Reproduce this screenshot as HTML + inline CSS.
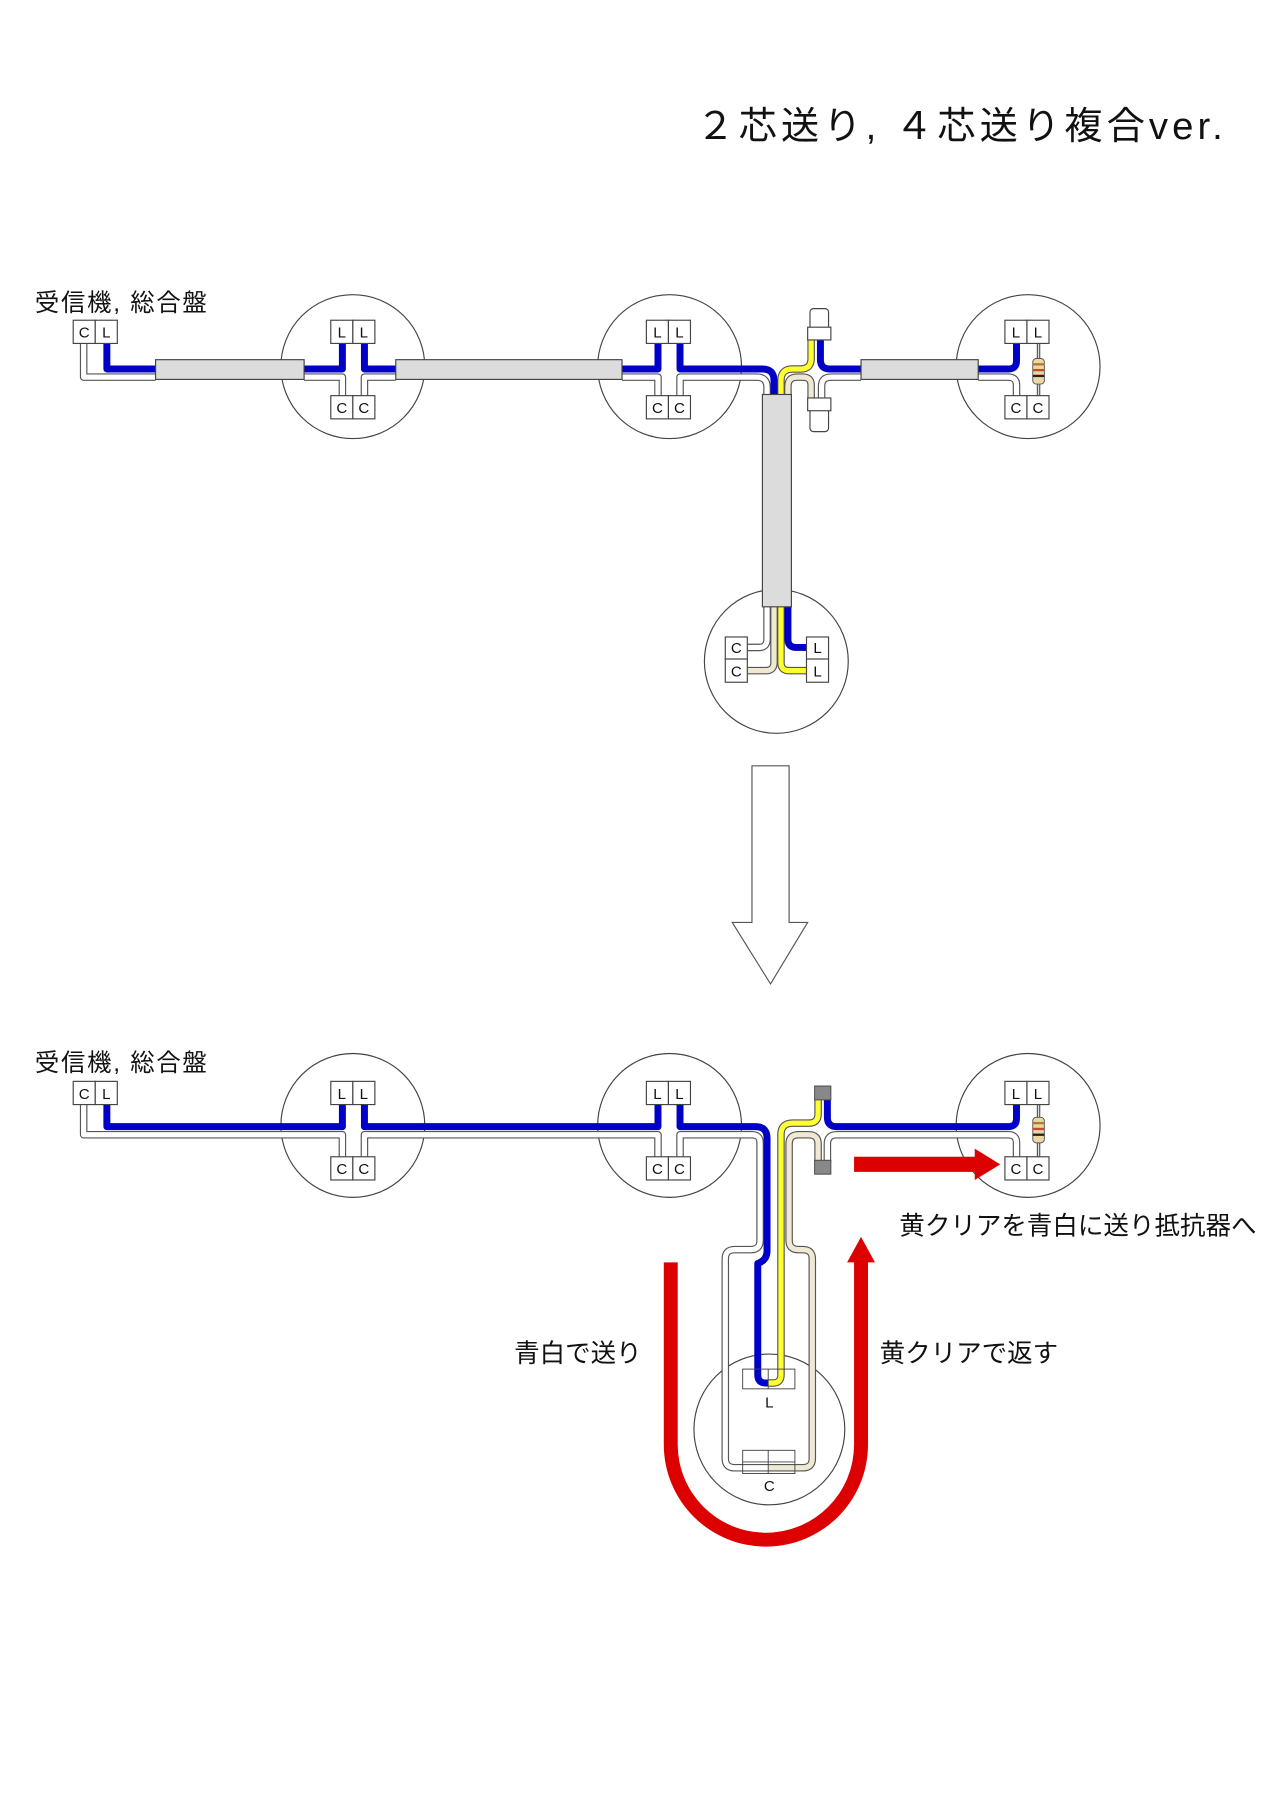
<!DOCTYPE html>
<html><head><meta charset="utf-8">
<style>
html,body{margin:0;padding:0;background:#fff;}
svg{display:block;}
text{font-family:"Liberation Sans","Noto Sans CJK JP",sans-serif;fill:#111;}
.c{fill:none;stroke:#444;stroke-width:1;}
.bx{fill:#fff;stroke:#444;stroke-width:1;}
.t{font-size:13px;text-anchor:middle;}
.wo{fill:none;stroke:#555;stroke-width:6.5;stroke-linejoin:round;}
.wi{fill:none;stroke:#fff;stroke-width:4.5;stroke-linejoin:round;}
.be{fill:none;stroke:#efe9d4;stroke-width:4.5;stroke-linejoin:round;}
.yi{fill:none;stroke:#ffff30;stroke-width:4.5;stroke-linejoin:round;}
.bl{fill:none;stroke:#0000c8;stroke-width:6;stroke-linejoin:round;}
.cab{fill:#dcdcdc;stroke:#444;stroke-width:1;}
</style></head><body>
<svg width="1280" height="1810" viewBox="0 0 1103 1560" xmlns="http://www.w3.org/2000/svg">
<defs>
<path id="tw1" d="M72 296 V325 H134"/>
<path id="tw2" d="M262 325 H295 V341"/>
<path id="tw3" d="M314 341 V325 H341"/>
<path id="tw4" d="M536 325 H567 V341"/>
<path id="tw5" d="M586 341 V325 H652 Q661 325 661 334 V342"/>
<path id="tbe" d="M679 342 V333 Q679 325 687 325 H692 Q699 325 699 332 V344"/>
<path id="tye" d="M673 342 V328 Q673 318 683 318 H690 Q699 318 699 309 V291"/>
<path id="tw6" d="M708 344 V333 Q708 325 716 325 H742"/>
<path id="tw7" d="M843 325 H869 Q876 325 876 332 V341"/>
<path id="cw1" d="M661 522 V551 Q661 558 654 558 H643"/>
<path id="cbe" d="M667 522 V571 Q667 578 660 578 H643"/>
<path id="cye" d="M673 522 V571 Q673 578 680 578 H695"/>
<path id="bw1" d="M72 951 V978 H295 V997"/>
<path id="bw2" d="M314 997 V978 H567 V997"/>
<path id="bw3" d="M586 997 V978 H648 Q655 978 655 985 V1069 Q655 1077 647 1077 H633 Q625 1077 625 1085 V1257 Q625 1265 633 1265 H662"/>
<path id="bbe" d="M705 1002 V986 Q705 978 697 978 H688 Q680 978 680 986 V1069 Q680 1077 688 1077 H692 Q700 1077 700 1085 V1257 Q700 1265 692 1265 H662"/>
<path id="bye" d="M705 947 V960 Q705 968 697 968 H683 Q673 968 673 978 V1185 Q673 1192 666 1192 H662"/>
<path id="bw4" d="M713 1002 V986 Q713 978 721 978 H869 Q876 978 876 985 V997"/>
</defs>

<text x="600" y="120" style="font-size:33px;letter-spacing:3.5px">２芯送り, ４芯送り複合ver.</text>

<!-- ============ TOP ============ -->
<text x="30" y="268" style="font-size:21px;letter-spacing:1.5px">受信機, 総合盤</text>
<circle class="c" cx="304" cy="316" r="62"/>
<circle class="c" cx="577" cy="316" r="62"/>
<circle class="c" cx="886" cy="316" r="62"/>
<circle class="c" cx="669" cy="570" r="62"/>

<g class="wo"><use href="#tw1"/><use href="#tw2"/><use href="#tw3"/><use href="#tw4"/><use href="#tw5"/><use href="#tbe"/><use href="#tye"/><use href="#tw6"/><use href="#tw7"/><use href="#cw1"/><use href="#cbe"/><use href="#cye"/></g>
<g class="wi"><use href="#tw1"/><use href="#tw2"/><use href="#tw3"/><use href="#tw4"/><use href="#tw5"/><use href="#tw6"/><use href="#tw7"/><use href="#cw1"/></g>
<g class="be"><use href="#tbe"/><use href="#cbe"/></g>
<g class="yi"><use href="#tye"/><use href="#cye"/></g>
<g class="bl">
<path d="M92 296 V318 H134"/>
<path d="M262 318 H295 V296"/>
<path d="M314 296 V318 H341"/>
<path d="M536 318 H567 V296"/>
<path d="M586 296 V318 H657 Q667 318 667 328 V342"/>
<path d="M707 291 V310 Q707 318 715 318 H742"/>
<path d="M843 318 H869 Q876 318 876 311 V296"/>
<path d="M679 522 V551 Q679 558 686 558 H695"/>
</g>
<rect class="cab" x="134" y="310" width="128" height="17"/>
<rect class="cab" x="341" y="310" width="195" height="17"/>
<rect class="cab" x="742" y="310" width="101" height="17"/>
<rect class="cab" x="657" y="340" width="25" height="183"/>
<rect class="bx" x="698" y="266" width="16" height="22" rx="3"/>
<rect class="bx" x="696" y="282" width="20" height="11"/>
<rect class="bx" x="698" y="350" width="16" height="22" rx="3"/>
<rect class="bx" x="696" y="343" width="20" height="11"/>
<line x1="895" y1="296" x2="895" y2="341" stroke="#555" stroke-width="3"/>
<line x1="895" y1="296" x2="895" y2="341" stroke="#ddd" stroke-width="1"/>
<rect x="890" y="309" width="10" height="22" rx="3" fill="#ecd6a6" stroke="#555" stroke-width="0.8"/>
<rect x="890" y="313" width="10" height="2" fill="#b07a30"/>
<rect x="890" y="318" width="10" height="2" fill="#c05020"/>
<rect x="890" y="323" width="10" height="2" fill="#222"/>
<g>
<rect class="bx" x="63" y="276" width="19" height="20"/><rect class="bx" x="82" y="276" width="19" height="20"/>
<text class="t" x="72.5" y="291">C</text><text class="t" x="91.5" y="291">L</text>
<rect class="bx" x="285" y="276" width="19" height="20"/><rect class="bx" x="304" y="276" width="19" height="20"/>
<text class="t" x="294.5" y="291">L</text><text class="t" x="313.5" y="291">L</text>
<rect class="bx" x="285" y="341" width="19" height="20"/><rect class="bx" x="304" y="341" width="19" height="20"/>
<text class="t" x="294.5" y="356">C</text><text class="t" x="313.5" y="356">C</text>
<rect class="bx" x="557" y="276" width="19" height="20"/><rect class="bx" x="576" y="276" width="19" height="20"/>
<text class="t" x="566.5" y="291">L</text><text class="t" x="585.5" y="291">L</text>
<rect class="bx" x="557" y="341" width="19" height="20"/><rect class="bx" x="576" y="341" width="19" height="20"/>
<text class="t" x="566.5" y="356">C</text><text class="t" x="585.5" y="356">C</text>
<rect class="bx" x="866" y="276" width="19" height="20"/><rect class="bx" x="885" y="276" width="19" height="20"/>
<text class="t" x="875.5" y="291">L</text><text class="t" x="894.5" y="291">L</text>
<rect class="bx" x="866" y="341" width="19" height="20"/><rect class="bx" x="885" y="341" width="19" height="20"/>
<text class="t" x="875.5" y="356">C</text><text class="t" x="894.5" y="356">C</text>
<rect class="bx" x="625" y="549" width="19" height="19"/><rect class="bx" x="625" y="568" width="19" height="20"/>
<text class="t" x="634.5" y="563">C</text><text class="t" x="634.5" y="583">C</text>
<rect class="bx" x="695" y="549" width="19" height="19"/><rect class="bx" x="695" y="568" width="19" height="20"/>
<text class="t" x="704.5" y="563">L</text><text class="t" x="704.5" y="583">L</text>
</g>

<polygon points="648,660 680,660 680,795 696,795 664,848 631,795 648,795" fill="#fff" stroke="#555" stroke-width="1"/>

<!-- ============ BOTTOM ============ -->
<text x="30" y="923" style="font-size:21px;letter-spacing:1.5px">受信機, 総合盤</text>
<circle class="c" cx="304" cy="970" r="62"/>
<circle class="c" cx="577" cy="970" r="62"/>
<circle class="c" cx="886" cy="970" r="62"/>
<circle class="c" cx="663" cy="1232" r="65"/>

<path d="M572 1088 V1245 A88 88 0 0 0 748 1245 V1088 H754 L742 1066 L730 1088 H736 V1245 A76 76 0 0 1 584 1245 V1088 Z" fill="#dd0000"/>
<path d="M736 997 H840 V990 L862 1003.5 L840 1017 V1010 H736 Z" fill="#dd0000"/>

<g class="wo"><use href="#bw1"/><use href="#bw2"/><use href="#bw3"/><use href="#bbe"/><use href="#bye"/><use href="#bw4"/></g>
<g class="wi"><use href="#bw1"/><use href="#bw2"/><use href="#bw3"/><use href="#bw4"/></g>
<g class="be"><use href="#bbe"/></g>
<g class="yi"><use href="#bye"/></g>
<g class="bl">
<path d="M92 951 V971 H295 V951"/>
<path d="M314 951 V971 H567 V951"/>
<path d="M586 951 V971 H651 Q661 971 661 981 V1078 Q661 1086 653 1089 V1185 Q653 1192 660 1192 H662"/>
<path d="M713 947 V963 Q713 971 721 971 H869 Q876 971 876 964 V951"/>
</g>
<rect x="702" y="936" width="14" height="12" fill="#888" stroke="#444" stroke-width="0.8"/>
<rect x="702" y="1000" width="14" height="12" fill="#888" stroke="#444" stroke-width="0.8"/>
<line x1="895" y1="951" x2="895" y2="997" stroke="#555" stroke-width="3"/>
<line x1="895" y1="951" x2="895" y2="997" stroke="#ddd" stroke-width="1"/>
<rect x="890" y="963" width="10" height="22" rx="3" fill="#ecd6a6" stroke="#555" stroke-width="0.8"/>
<rect x="890" y="967" width="10" height="2" fill="#b07a30"/>
<rect x="890" y="972" width="10" height="2" fill="#c05020"/>
<rect x="890" y="977" width="10" height="2" fill="#222"/>
<rect x="640" y="1180" width="45" height="17" fill="none" stroke="#444" stroke-width="0.8"/>
<line x1="662" y1="1180" x2="662" y2="1197" stroke="#444" stroke-width="0.8"/>
<text class="t" x="663" y="1213">L</text>
<rect x="640" y="1250" width="45" height="20" fill="none" stroke="#444" stroke-width="0.8"/>
<line x1="640" y1="1260" x2="685" y2="1260" stroke="#444" stroke-width="0.8"/>
<line x1="662" y1="1250" x2="662" y2="1270" stroke="#444" stroke-width="0.8"/>
<text class="t" x="663" y="1285">C</text>
<g>
<rect class="bx" x="63" y="932" width="19" height="20"/><rect class="bx" x="82" y="932" width="19" height="20"/>
<text class="t" x="72.5" y="947">C</text><text class="t" x="91.5" y="947">L</text>
<rect class="bx" x="285" y="932" width="19" height="20"/><rect class="bx" x="304" y="932" width="19" height="20"/>
<text class="t" x="294.5" y="947">L</text><text class="t" x="313.5" y="947">L</text>
<rect class="bx" x="285" y="997" width="19" height="20"/><rect class="bx" x="304" y="997" width="19" height="20"/>
<text class="t" x="294.5" y="1012">C</text><text class="t" x="313.5" y="1012">C</text>
<rect class="bx" x="557" y="932" width="19" height="20"/><rect class="bx" x="576" y="932" width="19" height="20"/>
<text class="t" x="566.5" y="947">L</text><text class="t" x="585.5" y="947">L</text>
<rect class="bx" x="557" y="997" width="19" height="20"/><rect class="bx" x="576" y="997" width="19" height="20"/>
<text class="t" x="566.5" y="1012">C</text><text class="t" x="585.5" y="1012">C</text>
<rect class="bx" x="866" y="932" width="19" height="20"/><rect class="bx" x="885" y="932" width="19" height="20"/>
<text class="t" x="875.5" y="947">L</text><text class="t" x="894.5" y="947">L</text>
<rect class="bx" x="866" y="997" width="19" height="20"/><rect class="bx" x="885" y="997" width="19" height="20"/>
<text class="t" x="875.5" y="1012">C</text><text class="t" x="894.5" y="1012">C</text>
</g>

<text x="775" y="1064" style="font-size:22px">黄クリアを青白に送り抵抗器へ</text>
<text x="443" y="1174" style="font-size:22px">青白で送り</text>
<text x="758" y="1174" style="font-size:22px">黄クリアで返す</text>
</svg>
</body></html>
